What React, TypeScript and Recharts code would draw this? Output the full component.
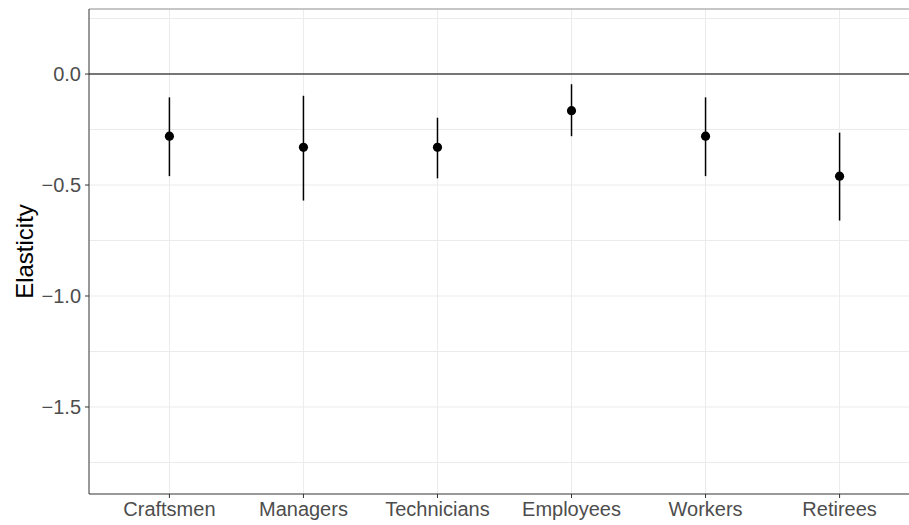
import React from "react";
import {
  ComposedChart,
  Scatter,
  ErrorBar,
  XAxis,
  YAxis,
  CartesianGrid,
  ReferenceLine,
} from "recharts";

// groups in plotting order
const groups = ["Craftsmen", "Managers", "Technicians", "Employees", "Workers", "Retirees"];
// point estimates and 95% interval bounds
const estimates = [-0.28, -0.33, -0.33, -0.165, -0.28, -0.46];
const lower = [-0.46, -0.57, -0.47, -0.28, -0.46, -0.66];
const upper = [-0.105, -0.098, -0.197, -0.046, -0.105, -0.264];

const yTicks = [-1.5, -1.0, -0.5, 0.0];
const yGrid = [0.25, 0, -0.25, -0.5, -0.75, -1.0, -1.25, -1.5, -1.75];
const yDomain: [number, number] = [-1.892, 0.293];

const data = groups.map((g, i) => ({
  pos: i + 1,
  name: g,
  est: estimates[i],
  // ErrorBar takes [below, above] offsets from the point
  err: [estimates[i] - lower[i], upper[i] - estimates[i]],
}));

const font = "'Liberation Sans', Arial, sans-serif";
const tickStyle = { fontSize: 20, fill: "#4d4d4d", fontFamily: font };

const Dot = (props: any) => <circle cx={props.cx} cy={props.cy} r={4.6} fill="#000" />;

export default function App() {
  return (
    <div style={{ position: "absolute", left: 0, top: 0, width: 909, height: 525, overflow: "hidden", background: "#fff" }}>
      <ComposedChart width={920} height={525} data={data} margin={{ top: 9, right: 0, bottom: 0, left: 0 }}>
        <CartesianGrid
          stroke="#ebebeb"
          strokeWidth={1}
          horizontalValues={yGrid}
          verticalValues={[1, 2, 3, 4, 5, 6]}
        />
        <XAxis
          dataKey="pos"
          type="number"
          domain={[0.4, 6.6]}
          ticks={[1, 2, 3, 4, 5, 6]}
          tickFormatter={(v) => groups[v - 1] ?? ""}
          height={31}
          tickSize={4}
          tickMargin={4}
          tick={tickStyle}
          stroke="#333"
          interval={0}
        />
        <YAxis
          type="number"
          domain={yDomain}
          allowDataOverflow
          ticks={yTicks}
          tickFormatter={(v) => v.toFixed(1).replace("-", "\u2212")}
          width={89}
          tickSize={4}
          tickMargin={4}
          tick={tickStyle}
          stroke="#333"
          label={({ viewBox }: any) => {
            const cy = viewBox.y + viewBox.height / 2;
            return (
              <text
                x={24}
                y={cy}
                transform={`rotate(-90 24 ${cy})`}
                textAnchor="middle"
                dominantBaseline="central"
                fontSize={24}
                fontFamily={font}
                fill="#000"
              >
                Elasticity
              </text>
            );
          }}
        />
        <ReferenceLine y={yDomain[1]} stroke="#b3b3b3" strokeWidth={1.5} />
        <ReferenceLine y={0} stroke="#4d4d4d" strokeWidth={1.5} />
        <Scatter dataKey="est" shape={Dot} isAnimationActive={false}>
          <ErrorBar dataKey="err" direction="y" width={0} stroke="#000" strokeWidth={1.5} isAnimationActive={false} />
        </Scatter>
      </ComposedChart>
    </div>
  );
}
